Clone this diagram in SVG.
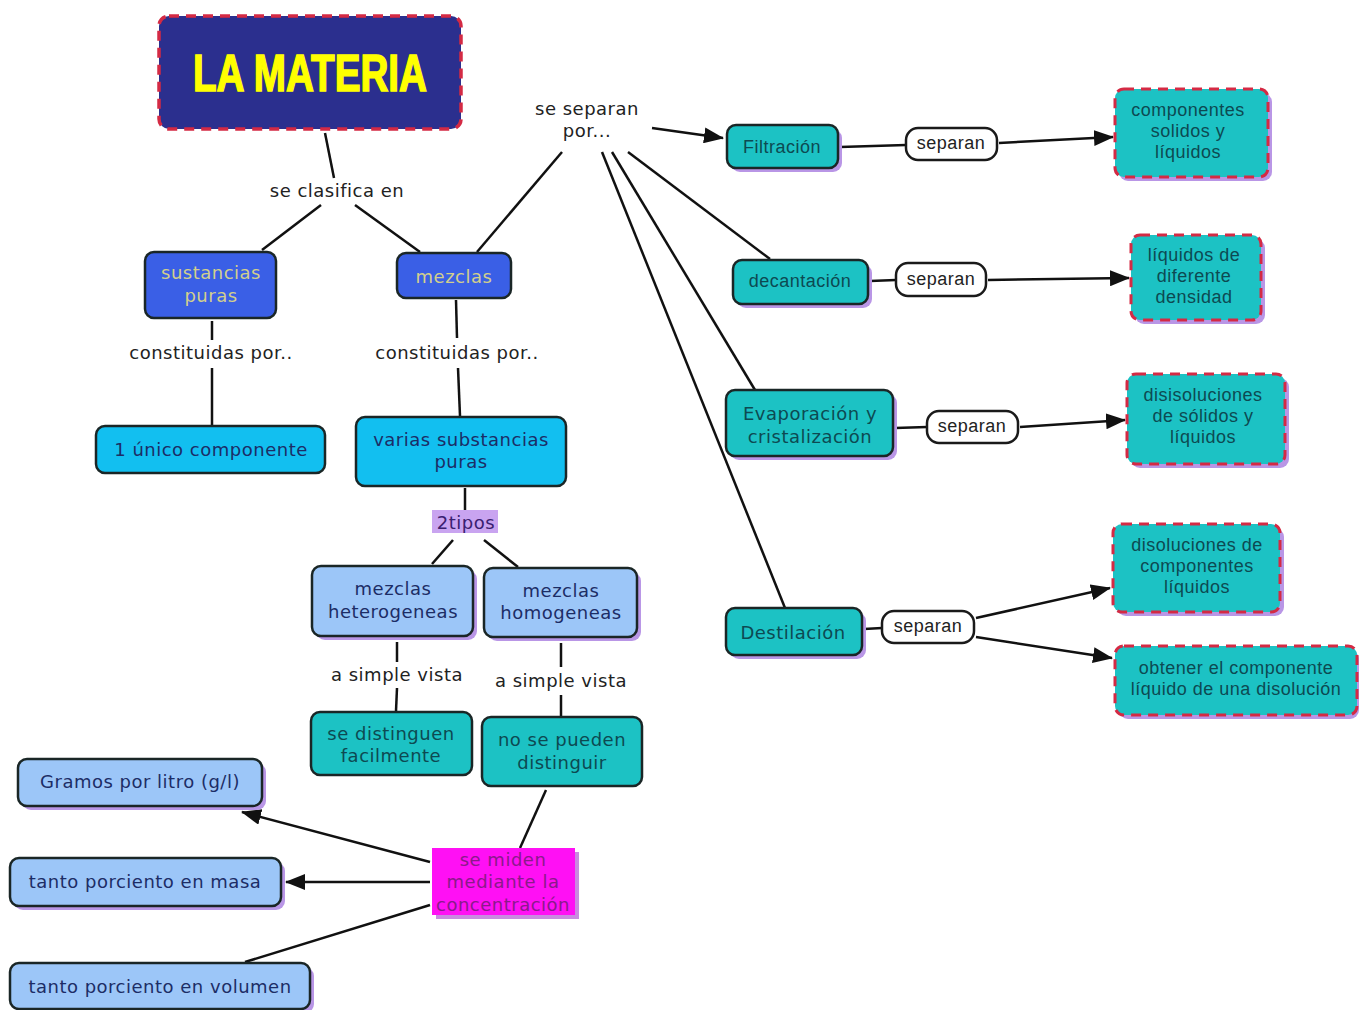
<svg xmlns="http://www.w3.org/2000/svg" width="1359" height="1010" viewBox="0 0 1359 1010">
<defs>
<marker id="ah" viewBox="0 0 20 16" refX="19" refY="8" markerWidth="20" markerHeight="16" markerUnits="userSpaceOnUse" orient="auto">
<path d="M0,0 L20,8 L0,16 Z" fill="#111"/>
</marker>
<style>
.ln{stroke:#111;stroke-width:2.5;fill:none}
.ar{stroke:#111;stroke-width:2.5;fill:none;marker-end:url(#ah)}
.sh{fill:#b996e6}
.box{stroke:#1a2626;stroke-width:2.5}
.blue{fill:#3a5fe6}
.sky{fill:#12bff0}
.lb{fill:#9cc6f8}
.teal{fill:#1cc2c4}
.dash{fill:#1cc2c4;stroke:#d42a44;stroke-width:3;stroke-dasharray:10 7}
.wh{fill:#fff;stroke:#1a1a1a;stroke-width:2.5}
.t{font-family:"DejaVu Sans",Verdana,sans-serif;font-size:18px;text-anchor:middle;dominant-baseline:central;letter-spacing:0.5px}
.a{font-family:"Liberation Sans",Arial,sans-serif;font-size:18px;text-anchor:middle;dominant-baseline:central;letter-spacing:0.5px}
.lbl{fill:#222}
.nv{fill:#1c2d66}
.tk{fill:#0d4a52}
.kh{fill:#d2cf8c}
</style>
</defs>
<rect width="1359" height="1010" fill="#fff"/>

<g id="connectors">
<line class="ln" x1="325" y1="133" x2="334" y2="178"/>
<line class="ln" x1="321" y1="205" x2="262" y2="250"/>
<line class="ln" x1="355" y1="205" x2="420" y2="252"/>
<line class="ln" x1="562" y1="152" x2="477" y2="252"/>
<line class="ar" x1="652" y1="128" x2="723" y2="138"/>
<line class="ln" x1="628" y1="152" x2="770" y2="259"/>
<line class="ln" x1="612" y1="152" x2="755" y2="390"/>
<line class="ln" x1="602" y1="152" x2="785" y2="608"/>
<line class="ln" x1="212" y1="321" x2="212" y2="340"/>
<line class="ln" x1="212" y1="368" x2="212" y2="425"/>
<line class="ln" x1="456" y1="300" x2="457" y2="338"/>
<line class="ln" x1="458" y1="368" x2="460" y2="416"/>
<line class="ln" x1="465" y1="488" x2="465" y2="510"/>
<line class="ln" x1="453" y1="540" x2="432" y2="564"/>
<line class="ln" x1="484" y1="540" x2="518" y2="567"/>
<line class="ln" x1="397" y1="642" x2="397" y2="662"/>
<line class="ln" x1="397" y1="688" x2="396" y2="711"/>
<line class="ln" x1="561" y1="643" x2="561" y2="667"/>
<line class="ln" x1="561" y1="695" x2="561" y2="716"/>
<line class="ln" x1="546" y1="790" x2="520" y2="848"/>
<line class="ar" x1="430" y1="862" x2="242" y2="812"/>
<line class="ar" x1="430" y1="882" x2="286" y2="882"/>
<line class="ln" x1="430" y1="905" x2="245" y2="962"/>
<line class="ln" x1="840" y1="147" x2="906" y2="145"/>
<line class="ar" x1="999" y1="143" x2="1113" y2="137"/>
<line class="ln" x1="870" y1="281" x2="896" y2="280"/>
<line class="ar" x1="988" y1="280" x2="1129" y2="278"/>
<line class="ln" x1="895" y1="428" x2="927" y2="427"/>
<line class="ar" x1="1020" y1="427" x2="1125" y2="420"/>
<line class="ln" x1="864" y1="629" x2="882" y2="628"/>
<line class="ar" x1="976" y1="618" x2="1110" y2="588"/>
<line class="ar" x1="976" y1="637" x2="1112" y2="658"/>
</g>

<g id="title">
<rect x="159" y="16" width="302" height="113" rx="10" fill="#2b2f8e" stroke="#d42a44" stroke-width="3.5" stroke-dasharray="10 7"/>
<text x="310" y="73" font-family="'Liberation Sans',Arial,sans-serif" font-weight="bold" font-size="52" fill="#ffff00" stroke="#ffff00" stroke-width="1.6" text-anchor="middle" dominant-baseline="central" textLength="234" lengthAdjust="spacingAndGlyphs">LA MATERIA</text>
</g>

<g id="lbl-clasifica"><text class="t lbl" x="337" y="190">se clasifica en</text></g>
<g id="lbl-separan-por"><text class="t lbl" x="587" y="108">se separan</text><text class="t lbl" x="587" y="130">por...</text></g>

<g id="sustancias">
<rect class="box blue" x="145" y="252" width="131" height="66" rx="9"/>
<text class="t kh" x="211" y="272">sustancias</text><text class="t kh" x="211" y="295">puras</text>
</g>
<g id="mezclas">
<rect class="box blue" x="397" y="253" width="114" height="45" rx="9"/>
<text class="t kh" x="454" y="276">mezclas</text>
</g>

<g id="lbl-const1"><text class="t lbl" x="211" y="352">constituidas por..</text></g>
<g id="lbl-const2"><text class="t lbl" x="457" y="352">constituidas por..</text></g>

<g id="unico">
<rect class="box sky" x="96" y="426" width="229" height="47" rx="9"/>
<text class="t nv" x="211" y="449">1 único componente</text>
</g>
<g id="varias">
<rect class="box sky" x="356" y="417" width="210" height="69" rx="9"/>
<text class="t nv" x="461" y="439">varias substancias</text><text class="t nv" x="461" y="461">puras</text>
</g>

<g id="tipos">
<rect x="432" y="510" width="66" height="23" fill="#c9a4f0"/>
<text class="t" x="466" y="522" fill="#3a2070">2tipos</text>
</g>

<g id="heterogeneas">
<rect class="sh" x="316" y="570" width="161" height="70" rx="9"/>
<rect class="box lb" x="312" y="566" width="161" height="70" rx="9"/>
<text class="t nv" x="393" y="588">mezclas</text><text class="t nv" x="393" y="611">heterogeneas</text>
</g>
<g id="homogeneas">
<rect class="sh" x="488" y="572" width="153" height="69" rx="9"/>
<rect class="box lb" x="484" y="568" width="153" height="69" rx="9"/>
<text class="t nv" x="561" y="590">mezclas</text><text class="t nv" x="561" y="612">homogeneas</text>
</g>

<g id="lbl-vista1"><text class="t lbl" x="397" y="674">a simple vista</text></g>
<g id="lbl-vista2"><text class="t lbl" x="561" y="680">a simple vista</text></g>

<g id="distinguen">
<rect class="box teal" x="311" y="712" width="161" height="63" rx="9"/>
<text class="t tk" x="391" y="733">se distinguen</text><text class="t tk" x="391" y="755">facilmente</text>
</g>
<g id="nodistinguir">
<rect class="box teal" x="482" y="717" width="160" height="69" rx="9"/>
<text class="t tk" x="562" y="739">no se pueden</text><text class="t tk" x="562" y="762">distinguir</text>
</g>

<g id="concentracion">
<rect x="436" y="852" width="143" height="67" fill="#c98ae0"/>
<rect x="432" y="848" width="143" height="67" fill="#ff10f4"/>
<text class="t" x="503" y="859" fill="#8a1a8a">se miden</text>
<text class="t" x="503" y="881" fill="#8a1a8a">mediante la</text>
<text class="t" x="503" y="904" fill="#8a1a8a">concentración</text>
</g>

<g id="gramos">
<rect class="sh" x="22" y="763" width="244" height="47" rx="9"/>
<rect class="box lb" x="18" y="759" width="244" height="47" rx="9"/>
<text class="t nv" x="140" y="781">Gramos por litro (g/l)</text>
</g>
<g id="masa">
<rect class="sh" x="14" y="862" width="271" height="48" rx="9"/>
<rect class="box lb" x="10" y="858" width="271" height="48" rx="9"/>
<text class="t nv" x="145" y="881">tanto porciento en masa</text>
</g>
<g id="volumen">
<rect class="sh" x="14" y="967" width="300" height="46" rx="9"/>
<rect class="box lb" x="10" y="963" width="300" height="46" rx="9"/>
<text class="t nv" x="160" y="986">tanto porciento en volumen</text>
</g>

<g id="filtracion">
<rect class="sh" x="731" y="129" width="111" height="43" rx="9"/>
<rect class="box teal" x="727" y="125" width="111" height="43" rx="9"/>
<text class="a tk" x="782" y="147">Filtración</text>
</g>
<g id="sep1">
<rect class="wh" x="906" y="128" width="91" height="32" rx="12"/>
<text class="a lbl" x="951" y="143">separan</text>
</g>
<g id="solidos">
<rect class="sh" x="1119" y="93" width="153" height="88" rx="9"/>
<rect class="dash" x="1115" y="89" width="153" height="88" rx="9"/>
<text class="a tk" x="1188" y="110">componentes</text><text class="a tk" x="1188" y="131">solidos y</text><text class="a tk" x="1188" y="152">líquidos</text>
</g>

<g id="decantacion">
<rect class="sh" x="737" y="264" width="135" height="44" rx="9"/>
<rect class="box teal" x="733" y="260" width="135" height="44" rx="9"/>
<text class="a tk" x="800" y="281">decantación</text>
</g>
<g id="sep2">
<rect class="wh" x="896" y="263" width="90" height="33" rx="12"/>
<text class="a lbl" x="941" y="279">separan</text>
</g>
<g id="densidad">
<rect class="sh" x="1135" y="239" width="130" height="85" rx="9"/>
<rect class="dash" x="1131" y="235" width="130" height="85" rx="9"/>
<text class="a tk" x="1194" y="255">líquidos de</text><text class="a tk" x="1194" y="276">diferente</text><text class="a tk" x="1194" y="297">densidad</text>
</g>

<g id="evaporacion">
<rect class="sh" x="730" y="394" width="167" height="66" rx="9"/>
<rect class="box teal" x="726" y="390" width="167" height="66" rx="9"/>
<text class="t tk" x="810" y="413">Evaporación y</text><text class="t tk" x="810" y="436">cristalización</text>
</g>
<g id="sep3">
<rect class="wh" x="927" y="411" width="91" height="32" rx="12"/>
<text class="a lbl" x="972" y="426">separan</text>
</g>
<g id="disisoluciones">
<rect class="sh" x="1131" y="378" width="158" height="90" rx="9"/>
<rect class="dash" x="1127" y="374" width="158" height="90" rx="9"/>
<text class="a tk" x="1203" y="395">disisoluciones</text><text class="a tk" x="1203" y="416">de sólidos y</text><text class="a tk" x="1203" y="437">líquidos</text>
</g>

<g id="destilacion">
<rect class="sh" x="730" y="612" width="136" height="47" rx="9"/>
<rect class="box teal" x="726" y="608" width="136" height="47" rx="9"/>
<text class="t tk" x="793" y="632">Destilación</text>
</g>
<g id="sep4">
<rect class="wh" x="882" y="611" width="92" height="32" rx="12"/>
<text class="a lbl" x="928" y="626">separan</text>
</g>
<g id="disoluciones">
<rect class="sh" x="1117" y="528" width="167" height="88" rx="9"/>
<rect class="dash" x="1113" y="524" width="167" height="88" rx="9"/>
<text class="a tk" x="1197" y="545">disoluciones de</text><text class="a tk" x="1197" y="566">componentes</text><text class="a tk" x="1197" y="587">líquidos</text>
</g>
<g id="obtener">
<rect class="sh" x="1119" y="650" width="240" height="69" rx="9"/>
<rect class="dash" x="1115" y="646" width="242" height="69" rx="9"/>
<text class="a tk" x="1236" y="668">obtener el componente</text><text class="a tk" x="1236" y="689">líquido de una disolución</text>
</g>
</svg>
